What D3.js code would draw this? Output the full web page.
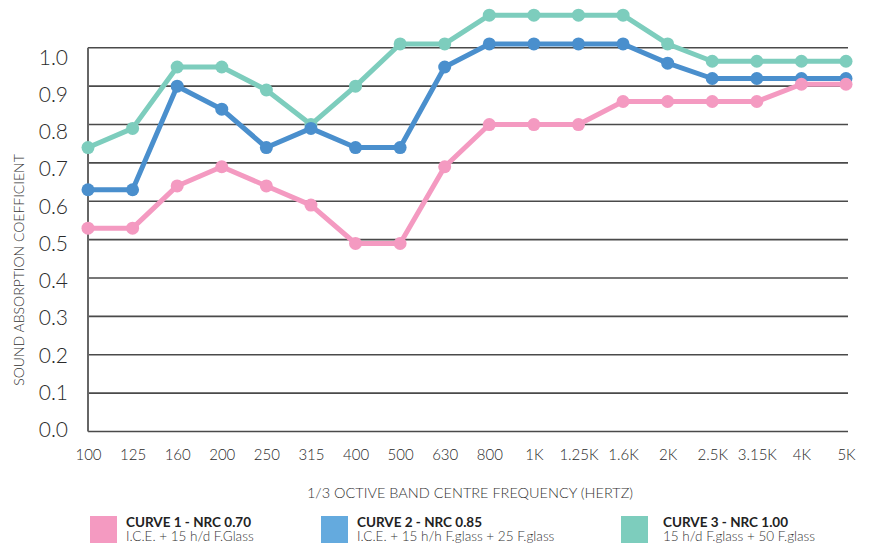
<!DOCTYPE html>
<html>
<head>
<meta charset="utf-8">
<script src="https://cdn.jsdelivr.net/npm/d3@7"></script>
<style>
  body { margin: 0; background: #fff; }
  svg { display: block; font-family: Lato, "Open Sans", sans-serif; }
</style>
</head>
<body>
<div id="chart"></div>
<script>
// chart data
const freqs = ["100","125","160","200","250","315","400","500","630","800","1K","1.25K","1.6K","2K","2.5K","3.15K","4K","5K"];
const curve1 = [0.53,0.53,0.64,0.69,0.64,0.59,0.49,0.49,0.69,0.80,0.80,0.80,0.86,0.86,0.86,0.86,0.905,0.905];
const curve2 = [0.63,0.63,0.90,0.84,0.74,0.79,0.74,0.74,0.95,1.01,1.01,1.01,1.01,0.96,0.92,0.92,0.92,0.92];
const curve3 = [0.74,0.79,0.95,0.95,0.89,0.80,0.90,1.01,1.01,1.085,1.085,1.085,1.085,1.01,0.965,0.965,0.965,0.965];
const yTicks = [0,0.1,0.2,0.3,0.4,0.5,0.6,0.7,0.8,0.9,1.0];
const legendTitles = ["CURVE 1 - NRC 0.70","CURVE 2 - NRC 0.85","CURVE 3 - NRC 1.00"];
const legendSubs = ["I.C.E. + 15 h/d F.Glass","I.C.E. + 15 h/h F.glass + 25 F.glass","15 h/d F.glass + 50 F.glass"];

const W = 872, H = 545;
const svg = d3.select("#chart").append("svg").attr("width", W).attr("height", H);

const x = d3.scalePoint().domain(freqs).range([88, 846]);
const y = d3.scaleLinear().domain([0, 1]).range([431.5, 47.8]);
// tick labels sit on a slightly tighter spacing than the grid
const yLab = d3.scaleLinear().domain([0, 1]).range([430, 57.5]);

// grid
svg.append("g").selectAll("line").data(yTicks).enter().append("line")
  .attr("x1", 88).attr("x2", 848)
  .attr("y1", d => y(d)).attr("y2", d => y(d))
  .attr("stroke", "#4a4a4a").attr("stroke-width", 1.6);

svg.append("line").attr("x1", 88).attr("x2", 88)
  .attr("y1", y(1)).attr("y2", y(0))
  .attr("stroke", "#666").attr("stroke-width", 2);

// y labels
const yAxis = svg.append("g").attr("transform", "translate(68,0)")
  .call(d3.axisLeft(yLab).tickValues(yTicks).tickSize(0).tickPadding(0).tickFormat(d3.format(".1f")));
yAxis.select(".domain").remove();
yAxis.selectAll("text").attr("font-size", 21).attr("font-family", "Lato, sans-serif")
  .attr("font-weight", 300).attr("fill", "#2a2a2a");

// x labels
const xAxis = svg.append("g").attr("transform", "translate(0,449)")
  .call(d3.axisBottom(x).tickSize(0).tickPadding(0));
xAxis.select(".domain").remove();
xAxis.selectAll("text").attr("font-size", 15).attr("font-family", "Lato, sans-serif")
  .attr("font-weight", 300).attr("fill", "#2a2a2a");

// axis titles
svg.append("text")
  .attr("x", 470).attr("y", 498)
  .attr("text-anchor", "middle")
  .attr("font-size", 14.5).attr("font-weight", 300).attr("fill", "#333")
  .text("1/3 OCTIVE BAND CENTRE FREQUENCY (HERTZ)");

svg.append("text")
  .attr("transform", "translate(24,270) rotate(-90)")
  .attr("text-anchor", "middle")
  .attr("font-size", 14).attr("font-weight", 300).attr("fill", "#333")
  .text("SOUND ABSORPTION COEFFICIENT");

// curves, drawn teal first so pink ends on top
const series = [
  {vals: curve3, color: "#7dcdbd"},
  {vals: curve2, color: "#4a8fcd"},
  {vals: curve1, color: "#f49ac1"}
];
const line = d3.line().x((d, i) => x(freqs[i])).y(d => y(d));

series.forEach(s => {
  svg.append("path").datum(s.vals)
    .attr("d", line).attr("fill", "none")
    .attr("stroke", s.color).attr("stroke-width", 5).attr("stroke-linejoin", "round");
  svg.append("g").selectAll("circle").data(s.vals).enter().append("circle")
    .attr("cx", (d, i) => x(freqs[i])).attr("cy", d => y(d))
    .attr("r", 6.5).attr("fill", s.color);
});

// legend
const legendColors = ["#f49ac1", "#64aade", "#7dcdbd"];
const legendX = [90, 321, 621];
legendTitles.forEach((t, i) => {
  const g = svg.append("g").attr("transform", "translate(" + legendX[i] + ",516)");
  g.append("rect").attr("width", 27).attr("height", 27).attr("fill", legendColors[i]);
  g.append("text").attr("x", i == 2 ? 42 : 36).attr("y", 10.5)
    .attr("font-size", 13.5).attr("font-weight", 700).attr("fill", "#222").text(t);
  g.append("text").attr("x", i == 2 ? 42 : 36).attr("y", 25)
    .attr("font-size", 13.5).attr("font-weight", 300).attr("fill", "#333").text(legendSubs[i]);
});
</script>
</body>
</html>
